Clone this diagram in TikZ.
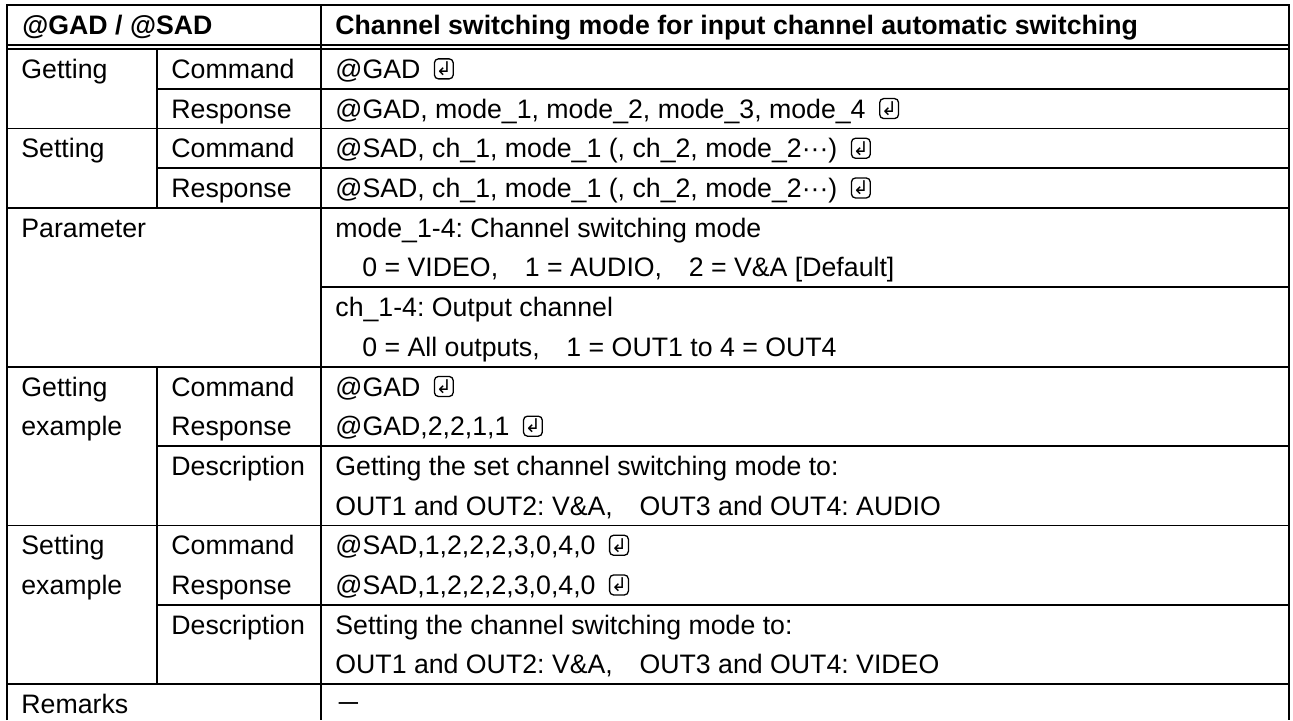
\documentclass[tikz,border=0pt]{standalone}
\usepackage{fontspec}
\setmainfont{Liberation Sans}
\newfontfamily\symfont{DejaVu Sans}
\newfontfamily\jpfont{Noto Sans CJK JP}
\usepackage{tikz}
\usetikzlibrary{positioning}
\frenchspacing
\tikzstyle{cell}=[anchor=west, inner sep=0pt
,text height=9.56pt, text depth=0pt
,font=\fontsize{13.35}{16}\selectfont
]
\tikzstyle{head cell} = [cell, font=\fontsize{13.35}{16}\selectfont\bfseries]
\tikzstyle{retkey} = [draw, line width=0.65pt, rounded corners=2pt
,minimum width=9.4pt, minimum height=10pt, inner sep=0pt
,font=\symfont\fontsize{9.5}{9.5}\selectfont]
\tikzstyle{rule} = [draw, line width=0.9pt]

\begin{document}
\begin{tikzpicture}[x=0.5pt,y=-0.5pt]
    \useasboundingbox (0,0) rectangle (1293,720);
    % Frame and header rules
    \draw[rule] (7,720) -- (7,5) -- (1289,5) -- (1289,720);
    \draw[rule] (321,5) -- (321,720);
    \draw[rule] (7,45) -- (1289,45);
    \draw[rule] (7,49) -- (1289,49);
    % Row rules
    \foreach \k/\xa in {1/157, 2/7, 3/157, 4/7, 6/321, 8/7, 10/157, 12/7, 14/157, 16/7}
        \draw[rule] (\xa,{49+39.7*\k}) -- (1289,{49+39.7*\k});
    \draw[rule] (157,49) -- (157,207.8);
    \draw[rule] (157,366.6) -- (157,684.2);

    % Header
    \node[head cell] (cmd) at (22,25) {@GAD / @SAD};
    \node[head cell] (title) at (335,25) {Channel switching mode for input channel automatic switching};

    % First column
    \foreach \r/\name/\txt in {0/get/Getting, 2/set/Setting, 4/par/Parameter, 8/gexa/Getting, 9/gexb/example, 12/sexa/Setting, 13/sexb/example, 16/rem/Remarks}
        \node[cell] (\name) at (21,{68.85+39.7*\r}) {\txt};

    % Second column
    \foreach \r/\txt in {0/Command, 1/Response, 2/Command, 3/Response, 8/Command, 9/Response, 10/Description, 12/Command, 13/Response, 14/Description}
        \node[cell] (l\r) at (171,{68.85+39.7*\r}) {\txt};

    % Third column
    \foreach \r/\dx/\txt in {0/0/{@GAD}, 1/0/{@GAD, mode\_1, mode\_2, mode\_3, mode\_4},
        2/0/{@SAD, ch\_1, mode\_1 (, ch\_2, mode\_2···)}, 3/0/{@SAD, ch\_1, mode\_1 (, ch\_2, mode\_2···)},
        4/0/{mode\_1-4: Channel switching mode}, 5/27/{0 = VIDEO,\quad 1 = AUDIO,\quad 2 = V\&A [Default]},
        6/0/{ch\_1-4: Output channel}, 7/27/{0 = All outputs,\quad 1 = OUT1 to 4 = OUT4},
        8/0/{@GAD}, 9/0/{@GAD,2,2,1,1},
        10/0/{Getting the set channel switching mode to:}, 11/0/{OUT1 and OUT2: V\&A,\quad OUT3 and OUT4: AUDIO},
        12/0/{@SAD,1,2,2,2,3,0,4,0}, 13/0/{@SAD,1,2,2,2,3,0,4,0},
        14/0/{Setting the channel switching mode to:}, 15/0/{OUT1 and OUT2: V\&A,\quad OUT3 and OUT4: VIDEO}}
        \node[cell] (c\r) at ({335+\dx},{68.85+39.7*\r}) {\txt};
    \node[cell] (c16) at (335,{68.85+39.7*16}) {\jpfont －};

    % Return keys
    \foreach \r in {0,1,2,3,8,9,12,13}
        \node[retkey, right=6.5pt of c\r] (k\r) {↲};
\end{tikzpicture}
\end{document}
